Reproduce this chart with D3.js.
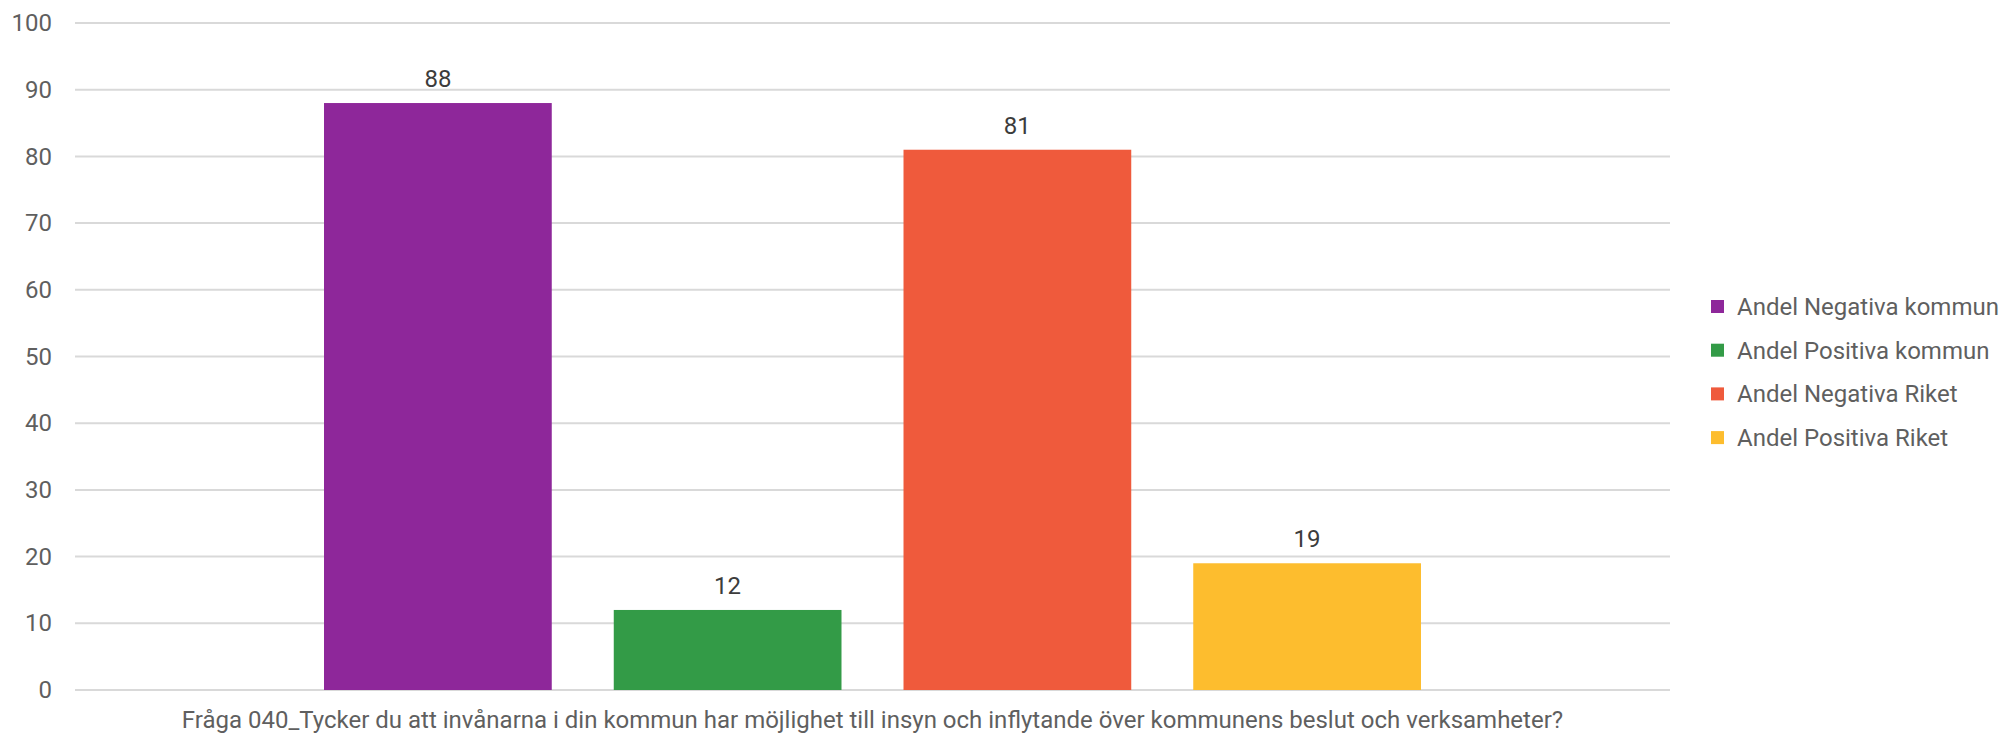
<!DOCTYPE html>
<html>
<head>
<meta charset="utf-8">
<script src="https://cdn.jsdelivr.net/npm/d3@7"></script>
<style>
  html, body { margin: 0; padding: 0; background: #fff; }
  svg { display: block; font-family: Roboto, "Noto Sans", sans-serif; }
</style>
</head>
<body>
<svg id="chart" width="2006" height="736"></svg>
<script>
const category = "Fråga 040_Tycker du att invånarna i din kommun har möjlighet till insyn och inflytande över kommunens beslut och verksamheter?";
const seriesNames = ["Andel Negativa kommun", "Andel Positiva kommun", "Andel Negativa Riket", "Andel Positiva Riket"];
const seriesValues = [88, 12, 81, 19];
const seriesColors = ["#8e279a", "#339b47", "#ef5a3c", "#fdbd2e"];
const yTicks = [0, 10, 20, 30, 40, 50, 60, 70, 80, 90, 100];

const svg = d3.select("#chart");
const margin = { left: 75, right: 336, top: 23, bottom: 46 };
const W = 2006, H = 736;
const plotL = margin.left, plotR = W - margin.right, plotT = margin.top, plotB = H - margin.bottom;

const y = d3.scaleLinear().domain([0, 100]).range([plotB, plotT]);
const x0 = d3.scaleBand().domain([category]).range([plotL, plotR]).paddingInner(0).paddingOuter(0.227);
const x1 = d3.scaleBand().domain(seriesNames).range([0, x0.bandwidth()]).paddingInner(0.214).paddingOuter(0);

// gridlines
svg.append("g").selectAll("line").data(yTicks).join("line")
  .attr("x1", plotL).attr("x2", plotR)
  .attr("y1", d => y(d)).attr("y2", d => y(d))
  .attr("stroke", "#d9d9d9").attr("stroke-width", 2);

// y axis labels
const yAxis = d3.axisLeft(y).tickValues(yTicks).tickSize(0).tickPadding(0);
const ya = svg.append("g").attr("transform", `translate(52,0)`).call(yAxis);
ya.select(".domain").remove();
ya.selectAll("text").attr("font-size", 24).attr("fill", "#5f5f5f").attr("font-family", "Roboto");

// bars
const data = seriesNames.map((n, i) => ({ name: n, value: seriesValues[i], color: seriesColors[i] }));
const g = svg.append("g").attr("transform", `translate(${x0(category)},0)`);
g.selectAll("rect").data(data).join("rect")
  .attr("x", d => x1(d.name))
  .attr("width", x1.bandwidth())
  .attr("y", d => y(d.value))
  .attr("height", d => y(0) - y(d.value))
  .attr("fill", d => d.color);

g.selectAll("text.val").data(data).join("text")
  .attr("class", "val")
  .attr("x", d => x1(d.name) + x1.bandwidth() / 2)
  .attr("y", d => y(d.value) - 16)
  .attr("text-anchor", "middle")
  .attr("font-size", 24).attr("fill", "#3c3c3c")
  .text(d => d.value);

// x axis category label
const xAxis = d3.axisBottom(x0).tickSize(0).tickPadding(0);
const xa = svg.append("g").attr("transform", `translate(0,${plotB})`).call(xAxis);
xa.select(".domain").remove();
xa.selectAll("text").attr("font-size", 24).attr("fill", "#5f5f5f").attr("font-family", "Roboto")
  .attr("dy", null).attr("y", 38);

// legend
const leg = svg.append("g").attr("transform", "translate(1711,300)");
const rows = leg.selectAll("g").data(data).join("g")
  .attr("transform", (d, i) => `translate(0,${i * 43.7})`);
rows.append("rect").attr("width", 13).attr("height", 13).attr("fill", d => d.color);
rows.append("text").attr("x", 26).attr("y", 6.5).attr("dy", "0.35em")
  .attr("font-size", 24).attr("fill", "#5f5f5f").text(d => d.name);
</script>
</body>
</html>
